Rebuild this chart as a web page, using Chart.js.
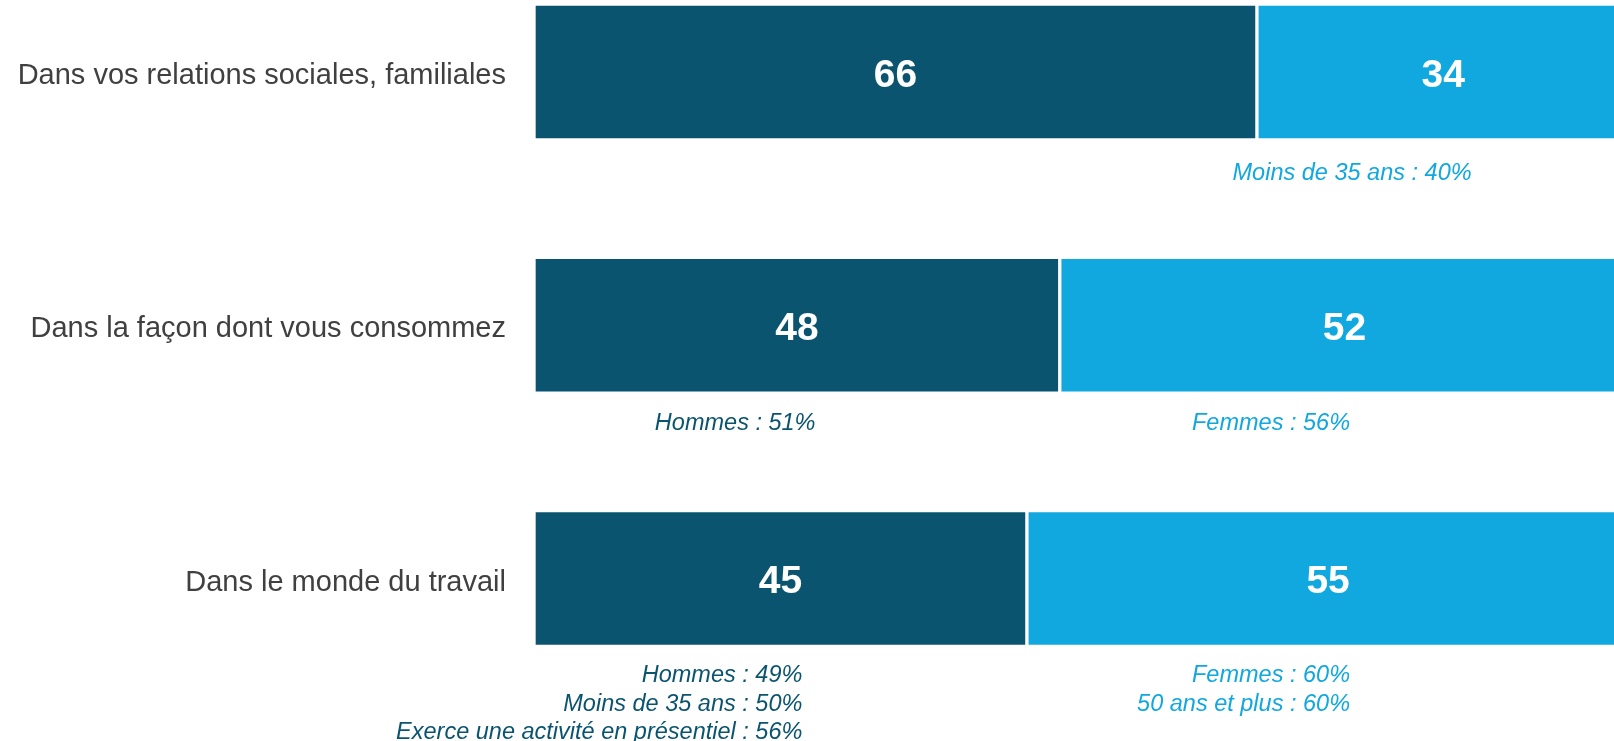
<!DOCTYPE html>
<html>
<head>
<meta charset="utf-8">
<script src="https://cdn.jsdelivr.net/npm/chart.js@4/dist/chart.umd.min.js"></script>
<style>
html,body{margin:0;padding:0;background:#fff;overflow:hidden;}
canvas{display:block;}
</style>
</head>
<body>
<canvas id="c" width="1614" height="741"></canvas>
<script>
const categories = [
  "Dans vos relations sociales, familiales",
  "Dans la façon dont vous consommez",
  "Dans le monde du travail"
];
const darkValues = [66, 48, 45];
const lightValues = [34, 52, 55];

// Sub-group notes under each bar: [category index, side, anchor (value units, right edge), lines]
const noteCategory = [0, 1, 1, 2, 2];
const noteSide = ["light", "dark", "light", "dark", "light"];
const noteAnchor = [85.6, 25.7, 74.5, 24.5, 74.5];
const noteLines = [
  ["Moins de 35 ans : 40%"],
  ["Hommes : 51%"],
  ["Femmes : 56%"],
  ["Hommes : 49%", "Moins de 35 ans : 50%", "Exerce une activité en présentiel : 56%"],
  ["Femmes : 60%", "50 ans et plus : 60%"]
];

const DARK = "#0b546f";
const LIGHT = "#11a7df";

const labelsPlugin = {
  id: "labelsPlugin",
  afterDatasetsDraw(chart) {
    const ctx = chart.ctx;
    ctx.save();
    ctx.fillStyle = "#ffffff";
    ctx.font = "bold 39px 'Liberation Sans', Arial, sans-serif";
    ctx.textAlign = "center";
    ctx.textBaseline = "middle";
    chart.data.datasets.forEach((ds, di) => {
      const meta = chart.getDatasetMeta(di);
      meta.data.forEach((bar, i) => {
        const cx = (bar.x + bar.base) / 2;
        ctx.fillText(String(ds.data[i]), cx, bar.y + 4);
      });
    });
    // notes
    const xs = chart.scales.x;
    ctx.font = "italic 23.5px 'Liberation Sans', Arial, sans-serif";
    ctx.textAlign = "right";
    const meta0 = chart.getDatasetMeta(0);
    noteLines.forEach((lines, n) => {
      const bar = meta0.data[noteCategory[n]];
      const x = xs.getPixelForValue(noteAnchor[n]);
      ctx.fillStyle = noteSide[n] === "dark" ? DARK : LIGHT;
      const off = noteCategory[n] === 0 ? 101 : (noteCategory[n] === 1 ? 98 : 97);
      lines.forEach((t, k) => {
        ctx.fillText(t, x, bar.y + off + k * 28.5);
      });
    });
    ctx.restore();
  }
};

new Chart(document.getElementById("c"), {
  type: "bar",
  data: {
    labels: categories,
    datasets: [
      { data: darkValues, backgroundColor: DARK, borderColor: "#ffffff", borderWidth: 2, borderSkipped: false, barThickness: 136, clip: false },
      { data: lightValues, backgroundColor: LIGHT, borderColor: "#ffffff", borderWidth: 2, borderSkipped: false, barThickness: 136, clip: false }
    ]
  },
  options: {
    indexAxis: "y",
    responsive: false,
    animation: false,
    devicePixelRatio: 1,
    layout: { padding: { top: 72, bottom: 162.5, left: 0, right: 0 } },
    plugins: { legend: { display: false }, tooltip: { enabled: false } },
    scales: {
      x: { stacked: true, min: 0, max: 98.6, display: false },
      y: {
        stacked: true,
        offset: false,
        border: { display: false },
        grid: { display: false, drawTicks: false },
        ticks: {
          padding: 28,
          labelOffset: 4,
          color: "#404040",
          font: { family: "'Liberation Sans', Arial, sans-serif", size: 29 }
        },
        afterFit(scale) { scale.width = 534; }
      }
    }
  },
  plugins: [labelsPlugin]
});
</script>
</body>
</html>
